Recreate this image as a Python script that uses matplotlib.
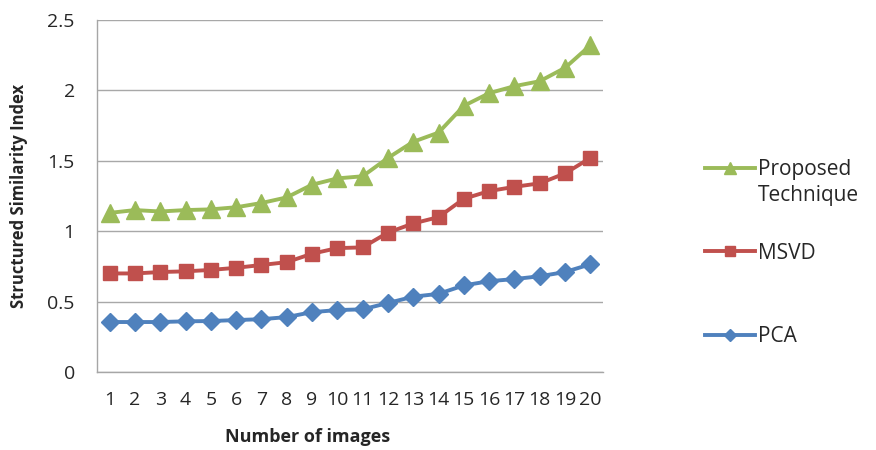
import matplotlib
matplotlib.use("Agg")
import matplotlib.pyplot as plt

images = list(range(1, 21))
proposed = [1.13, 1.15, 1.14, 1.15, 1.155, 1.17, 1.20, 1.24, 1.33, 1.375,
            1.39, 1.52, 1.635, 1.70, 1.89, 1.98, 2.03, 2.065, 2.16, 2.32]
msvd = [0.70, 0.70, 0.71, 0.715, 0.725, 0.74, 0.76, 0.78, 0.84, 0.88,
        0.885, 0.99, 1.055, 1.10, 1.23, 1.285, 1.315, 1.34, 1.41, 1.52]
pca = [0.355, 0.355, 0.355, 0.36, 0.362, 0.369, 0.375, 0.39, 0.425, 0.44,
       0.445, 0.49, 0.535, 0.555, 0.615, 0.645, 0.66, 0.68, 0.71, 0.765]
yticks = [0, 0.5, 1, 1.5, 2, 2.5]
ytick_labels = ["0", "0.5", "1", "1.5", "2", "2.5"]
series_names = ["Proposed", "MSVD", "PCA"]
name_second_line = "Technique"

plt.rcParams['font.family'] = ['Open Sans', 'DejaVu Sans']

fig = plt.figure(figsize=(8.76, 4.5), dpi=100)
ax = fig.add_axes([0.1107, 0.1733, 0.5776, 0.7823])

green = "#9bbb59"
red = "#c0504d"
blue = "#4f81bd"
text_col = "#262626"

l1, = ax.plot(images, proposed, color=green, lw=2.8, marker="^", ms=12.5,
              zorder=3)
l2, = ax.plot(images, msvd, color=red, lw=2.8, marker="s", ms=10.5,
              zorder=3)
l3, = ax.plot(images, pca, color=blue, lw=2.8, marker="D", ms=9,
              zorder=3)

ax.set_xlim(0.5, 20.5)
ax.set_ylim(0, 2.5)
ax.set_xticks(images)
ax.set_xticklabels([str(i) for i in images])
ax.set_yticks(yticks)
ax.set_yticklabels(ytick_labels)
ax.yaxis.grid(True, color="#a8a8a8", lw=1.0)
ax.set_axisbelow(True)

for s in ["top", "right"]:
    ax.spines[s].set_visible(False)
for s in ["left", "bottom"]:
    ax.spines[s].set_color("#a6a6a6")
    ax.spines[s].set_linewidth(1.0)

ax.tick_params(axis="both", length=0, labelsize=14, colors=text_col)
ax.tick_params(axis="x", pad=14)
ax.tick_params(axis="y", pad=16)

ax.set_xlabel("Number of images", fontsize=13, fontweight="bold",
              color=text_col)
ax.xaxis.set_label_coords(0.417, -0.16)
ax.set_ylabel("Structured Similarity Index", fontsize=12, fontweight="bold",
              color=text_col)
ax.yaxis.set_label_coords(-0.136, 0.5)

leg = fig.legend(handles=[l1, l2, l3], labels=series_names, loc="upper left",
                 bbox_to_anchor=(0.795, 0.665), frameon=False, fontsize=15,
                 handlelength=2.4, labelspacing=3.0, handletextpad=0.15,
                 markerscale=0.7, borderaxespad=0)
for t in leg.get_texts():
    t.set_color(text_col)

# second line of the first legend label, set directly beneath it
fig.canvas.draw()
first = leg.get_texts()[0]
bb = first.get_window_extent().transformed(fig.transFigure.inverted())
fig.text(bb.x0, bb.y0 - 0.012, name_second_line, fontsize=15, color=text_col,
         ha="left", va="top")

fig.savefig("out.png", dpi=100)
